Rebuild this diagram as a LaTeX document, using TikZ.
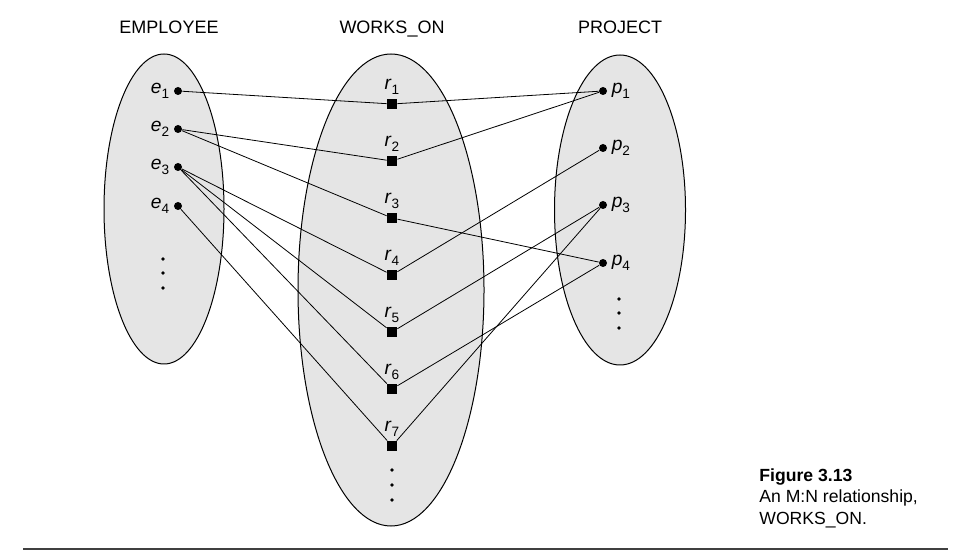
\documentclass[tikz,border=0pt]{standalone}
\usepackage{fontspec}
\setmainfont{Liberation Sans}
\definecolor{setfill}{gray}{0.9}
\newcommand{\setelem}[2]{\textit{#1}\raisebox{-0.45ex}{\fontsize{6.8}{7}\selectfont #2}}
\begin{document}
\begin{tikzpicture}[x=0.5pt, y=0.5pt, font=\fontsize{9}{11}\selectfont, line join=miter,
	entity/.style={draw, line width=0.5pt, fill=setfill},
	edot/.style={circle, fill=black, inner sep=0pt, minimum size=4pt},
	rbox/.style={rectangle, fill=black, inner sep=0pt, minimum size=5pt},
	more/.style={circle, fill=black, inner sep=0pt, minimum size=1.9pt},
	elem/.style={inner sep=2pt, font=\fontsize{9.6}{11}\selectfont},
	link/.style={line width=0.4pt}]
	\useasboundingbox (0,0) rectangle (957,-560);
	
	% Tiêu đề các tập
	\node[anchor=base] (emptitle) at (169,-34) {EMPLOYEE};
	\node[anchor=base] (wotitle) at (392,-34) {WORKS\_ON};
	\node[anchor=base] (projtitle) at (620,-34) {PROJECT};
	
	% Các tập (ellipse)
	\draw[entity] (164,-209) ellipse [x radius=30pt, y radius=77.5pt];
	\draw[entity] (391,-290) ellipse [x radius=46.5pt, y radius=118pt];
	\draw[entity] (620,-210) ellipse [x radius=32.75pt, y radius=77.5pt];
	
	% EMPLOYEE
	\node[edot, label={[elem]left:\setelem{e}{1}}] (e1) at (178,-91) {};
	\node[edot, label={[elem]left:\setelem{e}{2}}] (e2) at (178,-129) {};
	\node[edot, label={[elem]left:\setelem{e}{3}}] (e3) at (178,-167) {};
	\node[edot, label={[elem]left:\setelem{e}{4}}] (e4) at (178,-206) {};
	\node[more] (edots1) at (163,-259) {};
	\node[more] (edots2) at (163,-273) {};
	\node[more] (edots3) at (163,-288) {};
	
	% WORKS_ON
	\node[rbox, label={[elem]above:\setelem{r}{1}}] (r1) at (392,-104) {};
	\node[rbox, label={[elem]above:\setelem{r}{2}}] (r2) at (392,-161) {};
	\node[rbox, label={[elem]above:\setelem{r}{3}}] (r3) at (392,-218) {};
	\node[rbox, label={[elem]above:\setelem{r}{4}}] (r4) at (392,-275) {};
	\node[rbox, label={[elem]above:\setelem{r}{5}}] (r5) at (392,-332) {};
	\node[rbox, label={[elem]above:\setelem{r}{6}}] (r6) at (392,-389) {};
	\node[rbox, label={[elem]above:\setelem{r}{7}}] (r7) at (392,-446) {};
	\node[more] (rdots1) at (392,-470) {};
	\node[more] (rdots2) at (392,-485) {};
	\node[more] (rdots3) at (392,-500) {};
	
	% PROJECT
	\node[edot, label={[elem]right:\setelem{p}{1}}] (p1) at (603,-91) {};
	\node[edot, label={[elem]right:\setelem{p}{2}}] (p2) at (603,-148) {};
	\node[edot, label={[elem]right:\setelem{p}{3}}] (p3) at (603,-205) {};
	\node[edot, label={[elem]right:\setelem{p}{4}}] (p4) at (603,-263) {};
	\node[more] (pdots1) at (619,-299) {};
	\node[more] (pdots2) at (619,-313) {};
	\node[more] (pdots3) at (619,-328) {};
	
	% Các liên kết
	\draw[link] (e1) -- (r1) -- (p1);
	\draw[link] (e2) -- (r2) -- (p1);
	\draw[link] (e2) -- (r3) -- (p4);
	\draw[link] (e3) -- (r4) -- (p2);
	\draw[link] (e3) -- (r5) -- (p3);
	\draw[link] (e3) -- (r6) -- (p4);
	\draw[link] (e4) -- (r7) -- (p3);
	
	% Chú thích
	\node[anchor=north west, inner sep=0pt, align=left, font=\fontsize{8.8}{10.8}\selectfont] (caption) at (759,-468) {\textbf{Figure 3.13}\\An M:N relationship,\\WORKS\_ON.};
	\coordinate (rulel) at (23,-549);
	\coordinate (ruler) at (948,-549);
	\draw[line width=0.7pt, black!75] (rulel) -- (ruler);
	
\end{tikzpicture}
\end{document}
